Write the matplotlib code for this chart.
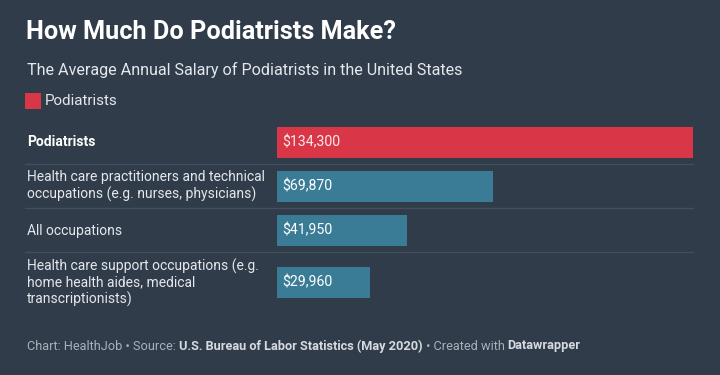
import matplotlib
matplotlib.use("Agg")
import matplotlib.pyplot as plt

plt.rcParams['font.family'] = ['Roboto', 'DejaVu Sans']

categories = [
    "Podiatrists",
    "Health care practitioners and technical\noccupations (e.g. nurses, physicians)",
    "All occupations",
    "Health care support occupations (e.g.\nhome health aides, medical\ntranscriptionists)",
]
values = [134300, 69870, 41950, 29960]
value_labels = ["$134,300", "$69,870", "$41,950", "$29,960"]
highlight = [True, False, False, False]

BG = "#313c4b"
RED = "#d93747"
TEAL = "#3a7c95"
LINE = "#434e5e"
W, H = 720, 375

fig = plt.figure(figsize=(W / 100, H / 100), dpi=100, facecolor=BG)

# pixel-space overlay axis for layout
lay = fig.add_axes([0, 0, 1, 1])
lay.set_xlim(0, W)
lay.set_ylim(H, 0)
lay.axis("off")
lay.set_facecolor("none")

# bar axis: x in dollars, y in pixel rows
bx0, bx1 = 277, 693
bax = fig.add_axes([bx0 / W, 0, (bx1 - bx0) / W, 1])
bax.set_facecolor("none")
bax.set_xlim(0, max(values))
bax.set_ylim(H, 0)
bax.axis("off")

row_centers = [142, 186, 230.5, 282.5]
bar_h = 31
for v, lab, c, hl, cat in zip(values, value_labels, row_centers, highlight, categories):
    bax.barh(c, v, height=bar_h, color=RED if hl else TEAL, edgecolor="none")
    bax.text(max(values) * 0.0135, c, lab, color="#ffffff" if not hl else "#ffe8ea",
             fontsize=10.2, va="center", ha="left")
    lay.text(27, c, cat, color="#ffffff" if hl else "#e4e7eb",
             fontsize=10.0, fontweight="bold" if hl else "normal",
             va="center", ha="left", linespacing=1.17)

# separators between rows
for y in [164, 208, 252]:
    lay.plot([25, 693], [y, y], color=LINE, lw=1)

# title / subtitle
lay.text(26, 32, "How Much Do Podiatrists Make?", color="#ffffff", fontsize=18.2,
         fontweight="bold", va="center", ha="left")
lay.text(27, 70, "The Average Annual Salary of Podiatrists in the United States",
         color="#e4e7eb", fontsize=11.6, va="center", ha="left")

# legend
lay.add_patch(plt.Rectangle((25, 93), 16, 16, color=RED, lw=0))
lay.text(45, 101, "Podiatrists", color="#e4e7eb", fontsize=10.9, va="center", ha="left")

# footer with mixed weights
pieces = [
    ("Chart: HealthJob • Source: ", "normal", "#a9b0b9"),
    ("U.S. Bureau of Labor Statistics (May 2020)", "bold", "#d6dadf"),
    (" • Created with ", "normal", "#a9b0b9"),
    ("Datawrapper", "bold", "#d6dadf"),
]
fig.canvas.draw()
r = fig.canvas.get_renderer()
x = 27
for txt, wt, col in pieces:
    t = lay.text(x, 346, txt, color=col, fontsize=9.2, fontweight=wt, va="center", ha="left")
    bb = t.get_window_extent(renderer=r)
    x += bb.width

fig.savefig("out.png", dpi=100, facecolor=BG)
